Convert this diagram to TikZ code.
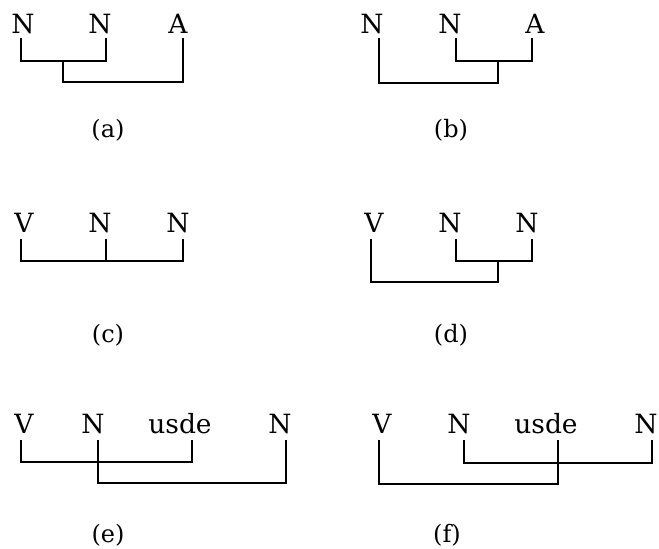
\documentclass[tikz,border=0pt]{standalone}
\usepackage{fontspec}
\setmainfont{DejaVu Serif}
\begin{document}
\begin{tikzpicture}[x=1pt,y=-1pt,
  word/.style={font=\fontsize{26.5}{26.5}\selectfont, anchor=base, inner sep=0pt},
  caption/.style={font=\fontsize{24}{24}\selectfont, anchor=base, inner sep=0pt},
  link/.style={line width=1.4pt, line join=miter}]
\useasboundingbox (0,0) rectangle (659,549);

% ---------- (a) ----------
\node[word] (aN1) at (23,33) {N};
\node[word] (aN2) at (100,33) {N};
\node[word] (aA)  at (178,33) {A};
\coordinate (aT1) at (21,38);
\coordinate (aT2) at (106,38);
\coordinate (aT3) at (183,38);
\coordinate (aM) at (63,61);
\coordinate (aJ) at (63,82);
\draw[link] (aT1) |- (aM) -| (aT2);
\draw[link] (aM) -- (aJ) -| (aT3);
\node[caption] (capa) at (108,137) {(a)};

% ---------- (b) ----------
\node[word] (bN1) at (372,33) {N};
\node[word] (bN2) at (450,33) {N};
\node[word] (bA)  at (535,33) {A};
\coordinate (bT1) at (379,38);
\coordinate (bT2) at (456,38);
\coordinate (bT3) at (532,38);
\coordinate (bM) at (498,61);
\coordinate (bJ) at (498,83);
\draw[link] (bT2) |- (bM) -| (bT3);
\draw[link] (bM) -- (bJ) -| (bT1);
\node[caption] (capb) at (451,137) {(b)};

% ---------- (c) ----------
\node[word] (cV)  at (24,232) {V};
\node[word] (cN1) at (100,232) {N};
\node[word] (cN2) at (178,232) {N};
\coordinate (cT1) at (21,239);
\coordinate (cT2) at (106,239);
\coordinate (cT3) at (183,239);
\coordinate (cM) at (106,261);
\draw[link] (cT1) |- (cM) -| (cT3);
\draw[link] (cT2) -- (cM);
\node[caption] (capc) at (108,342) {(c)};

% ---------- (d) ----------
\node[word] (dV)  at (374,232) {V};
\node[word] (dN1) at (450,232) {N};
\node[word] (dN2) at (527,232) {N};
\coordinate (dT1) at (371,239);
\coordinate (dT2) at (456,239);
\coordinate (dT3) at (532,239);
\coordinate (dM) at (498,261);
\coordinate (dJ) at (498,282);
\draw[link] (dT2) |- (dM) -| (dT3);
\draw[link] (dM) -- (dJ) -| (dT1);
\node[caption] (capd) at (451,342) {(d)};

% ---------- (e) ----------
\node[word] (eV)  at (24,433) {V};
\node[word] (eN1) at (93,433) {N};
\node[word] (eU)  at (180,433) {usde};
\node[word] (eN2) at (280,433) {N};
\coordinate (eT1) at (21,440);
\coordinate (eT2) at (98,440);
\coordinate (eT3) at (192,440);
\coordinate (eT4) at (286,440);
\coordinate (eB1) at (192,462);
\coordinate (eB2) at (286,483);
\draw[link] (eT1) |- (eB1) -- (eT3);
\draw[link] (eT2) |- (eB2) -- (eT4);
\node[caption] (cape) at (108,542) {(e)};

% ---------- (f) ----------
\node[word] (fV)  at (382,433) {V};
\node[word] (fN1) at (459,433) {N};
\node[word] (fU)  at (546,433) {usde};
\node[word] (fN2) at (646,433) {N};
\coordinate (fT1) at (379,440);
\coordinate (fT2) at (464,440);
\coordinate (fT3) at (558,440);
\coordinate (fT4) at (652,440);
\coordinate (fB1) at (652,463);
\coordinate (fB2) at (558,484);
\draw[link] (fT2) |- (fB1) -- (fT4);
\draw[link] (fT1) |- (fB2) -- (fT3);
\node[caption] (capf) at (447,542) {(f)};
\end{tikzpicture}
\end{document}
